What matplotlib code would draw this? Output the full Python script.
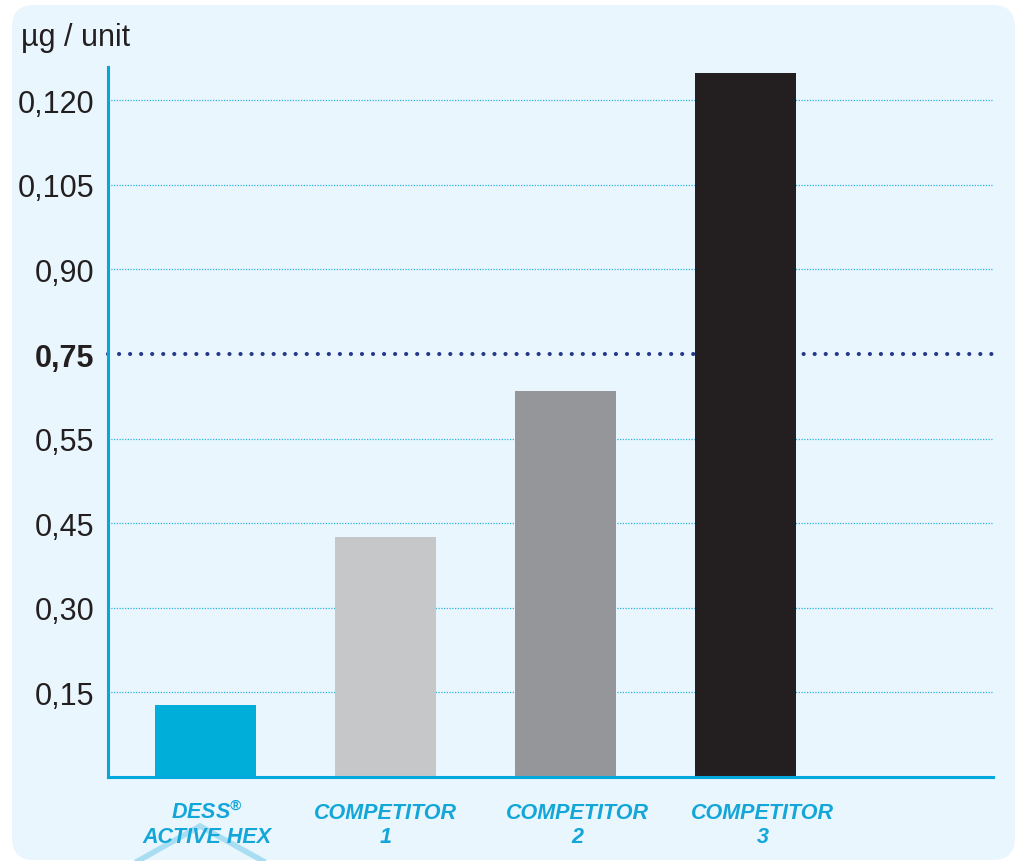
import matplotlib
matplotlib.use("Agg")
import matplotlib.pyplot as plt
from matplotlib.patches import FancyBboxPatch
from matplotlib.lines import Line2D
from matplotlib.transforms import IdentityTransform, ScaledTranslation

# ---- data ----
categories = ["DESS$^{®}$\nACTIVE HEX", "COMPETITOR\n1", "COMPETITOR\n2", "COMPETITOR\n3"]
values = [0.0128, 0.0426, 0.0685, 0.1248]
bar_colors = ["#00afd9", "#c6c7c9", "#959699", "#231f20"]
tick_values = [0.015, 0.030, 0.045, 0.060, 0.075, 0.090, 0.105, 0.120]
tick_labels = ["0,15", "0,30", "0,45", "0,55", "0,75", "0,90", "0,105", "0,120"]
reference_value = 0.075
reference_label = "0,75"
y_unit = "µg / unit"

plt.rcParams['font.family'] = ['Liberation Sans', 'DejaVu Sans']
plt.rcParams['mathtext.fontset'] = 'custom'
plt.rcParams['mathtext.rm'] = 'Liberation Sans:italic:bold'
plt.rcParams['mathtext.it'] = 'Liberation Sans:italic:bold'
plt.rcParams['mathtext.bf'] = 'Liberation Sans:italic:bold'

W, H = 1016, 862
fig = plt.figure(figsize=(W / 100, H / 100), dpi=100)
fig.patch.set_facecolor("white")

# background panel (pixel coordinates)
panel = FancyBboxPatch((12, 1), 1003, 855, boxstyle="round,pad=0,rounding_size=22",
                       transform=IdentityTransform(), facecolor="#eaf6fd",
                       edgecolor="none", zorder=-2)
fig.add_artist(panel)

# decorative hexagon fragment
hexline = Line2D([138, 200, 263], [H - 862, H - 827, H - 862], transform=IdentityTransform(),
                 color="#a9def2", lw=4.0, zorder=-1, solid_joinstyle="miter")
fig.add_artist(hexline)

ax = fig.add_axes([108 / W, 84 / H, 885 / W, 710 / H])
ax.set_facecolor("none")

x = list(range(len(categories)))
ax.bar(x, values, width=0.56, color=bar_colors, zorder=3)

ax.set_xlim(-0.542, 4.375)
ax.set_ylim(0, 0.1259)

for v in tick_values:
    if v != reference_value:
        ax.axhline(v, color="#2ab4e1", lw=0.9, linestyle=(0, (1, 1.2)), zorder=1)
ax.axhline(reference_value, color="#26398a", lw=3.0, linestyle=(0, (0.01, 2.64)),
           dash_capstyle="round", zorder=1.5, clip_on=False)

ax.set_yticks(tick_values, tick_labels)
ax.tick_params(axis="y", length=0, pad=10, labelsize=22, labelcolor="#231f20")
for lab in ax.get_yticklabels():
    if lab.get_text() == reference_label:
        lab.set_fontweight("bold")

ax.set_xticks(x, categories)
ax.tick_params(axis="x", length=0, pad=18)
label_shift_px = [(1, 3), (0, 0), (12, 0), (17, 0)]
for lab, (dx, dy) in zip(ax.get_xticklabels(), label_shift_px):
    lab.set_fontsize(15.5)
    lab.set_fontweight("bold")
    lab.set_fontstyle("italic")
    lab.set_color("#13a6d9")
    lab.set_linespacing(1.2)
    lab.set_transform(lab.get_transform() + ScaledTranslation(dx / 100, dy / 100, fig.dpi_scale_trans))

for s in ["top", "right"]:
    ax.spines[s].set_visible(False)
for s in ["left", "bottom"]:
    ax.spines[s].set_color("#00a8dc")
    ax.spines[s].set_linewidth(2.2)
    ax.spines[s].set_zorder(4)

fig.text(21 / W, (H - 46) / H, y_unit, fontsize=22, color="#231f20", va="baseline", ha="left")

fig.savefig("out.png", dpi=100)
